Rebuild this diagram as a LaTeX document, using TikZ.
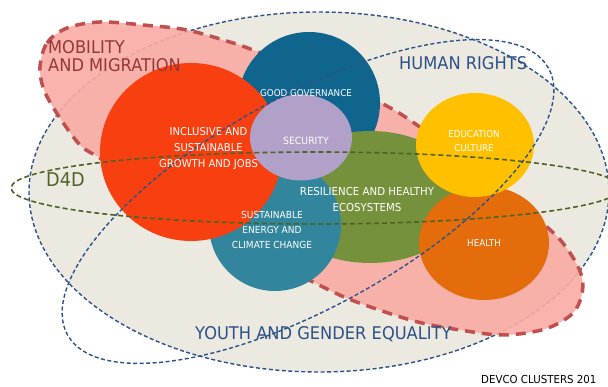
\documentclass[tikz,border=0pt]{standalone}
\usepackage{fontspec}
\setmainfont{DejaVu Sans}[FakeStretch=0.93]
\definecolor{beige}{HTML}{ECEAE0}
\definecolor{pinkfill}{HTML}{F9ABA4}
\definecolor{pinkline}{HTML}{C0504D}
\definecolor{cred}{HTML}{F83F10}
\definecolor{cblue}{HTML}{10658F}
\definecolor{cpurple}{HTML}{B1A0C7}
\definecolor{cgreen}{HTML}{76913B}
\definecolor{cteal}{HTML}{31859C}
\definecolor{cyellow}{HTML}{FFC000}
\definecolor{corange}{HTML}{E46C0A}
\definecolor{dblue}{HTML}{2B5289}
\definecolor{olive}{HTML}{4F6228}
\definecolor{mobred}{HTML}{953735}
\definecolor{hrblue}{HTML}{2B5088}
\tikzset{
  wt/.style={text=white, inner sep=0pt, align=center},
  lbl/.style={inner sep=0pt, anchor=base west},
  bdash/.style={draw=dblue, line width=1.4pt, dash pattern=on 4pt off 2.5pt},
  odash/.style={draw=olive, line width=1.6pt, dash pattern=on 5pt off 3pt},
  pinkblob/.style={fill=pinkfill, fill opacity=0.9, draw=pinkline, line width=3.5pt, dash pattern=on 10pt off 7pt},
}
\begin{document}
\begin{tikzpicture}[x=1pt,y=-1pt]
\useasboundingbox (0,0) rectangle (608,387);
% human rights field
\fill[beige] (319,192) ellipse [x radius=290pt, y radius=180pt];
\draw[bdash] (319,192) ellipse [x radius=290pt, y radius=180pt];
% mobility and migration blob
\path[pinkblob] plot[smooth cycle, tension=0.55] coordinates {
 (40,67) (47,43) (67,28) (100,22) (143,25) (187,30) (233,43) (253,50)
 (320,76) (381,103) (417,125) (480,172) (547,227) (568,250) (581,274)
 (582,294) (572,314) (545,329) (504,335) (460,330) (414,321) (354,301)
 (317,284) (260,255) (200,222) (130,178) (100,158) (80,145) (58,115) (44,90)};
% clusters
\fill[cblue] (309,103) circle [radius=71pt];
\fill[cgreen] (370,197) ellipse [x radius=97pt, y radius=66pt];
\fill[cteal] (275,225) circle [radius=66pt];
\fill[cred] (191,152) ellipse [x radius=91pt, y radius=89pt];
\fill[cpurple] (301,137.5) ellipse [x radius=51pt, y radius=43pt];
\fill[corange] (484,243) ellipse [x radius=65pt, y radius=57pt];
\fill[cyellow] (475,145) ellipse [x radius=59pt, y radius=52pt];
% D4D and youth/gender loops
\draw[odash] (316,188) ellipse [x radius=305pt, y radius=36pt];
\begin{scope}[rotate around={29:(308,201.5)}]
\draw[bdash] (308,201.5) ellipse [x radius=275pt, y radius=105pt];
\end{scope}
% labels
\node[inner sep=0pt, anchor=north west, align=left, text=mobred, font=\fontsize{17.5}{18}\selectfont] (mob) at (48,40) {MOBILITY\\AND MIGRATION};
\node[lbl, text=olive, font=\fontsize{19}{19}\selectfont] (d4d) at (46,187) {D4D};
\node[lbl, text=hrblue, font=\fontsize{17.5}{18}\selectfont] (hr) at (399,70) {HUMAN RIGHTS};
\node[lbl, text=hrblue, font=\fontsize{17.5}{18}\selectfont] (youth) at (195,340) {YOUTH AND GENDER EQUALITY};
\node[wt, anchor=base, font=\fontsize{9.4}{11}\selectfont] (gg) at (306,97) {GOOD GOVERNANCE};
\node[wt, anchor=base, font=\fontsize{10}{11}\selectfont] (sec) at (306,145) {SECURITY};
\node[wt, anchor=base, font=\fontsize{9.4}{11}\selectfont] (health) at (484,247) {HEALTH};
\node[wt, anchor=north, font=\fontsize{10.8}{16}\selectfont] (grow) at (208.5,127) {INCLUSIVE AND\\SUSTAINABLE\\GROWTH AND JOBS};
\node[wt, anchor=north, font=\fontsize{11}{16}\selectfont] (res) at (367,187) {RESILIENCE AND HEALTHY\\ECOSYSTEMS};
\node[wt, anchor=north, font=\fontsize{9.7}{15}\selectfont] (energy) at (272,211) {SUSTAINABLE\\ENERGY AND\\CLIMATE CHANGE};
\node[wt, anchor=north, font=\fontsize{9.4}{14}\selectfont] (edu) at (474,130) {EDUCATION\\CULTURE};
\node[lbl, text=black, font=\fontsize{11}{12}\selectfont] (devco) at (481,383.5) {DEVCO CLUSTERS 201};
\end{tikzpicture}
\end{document}
